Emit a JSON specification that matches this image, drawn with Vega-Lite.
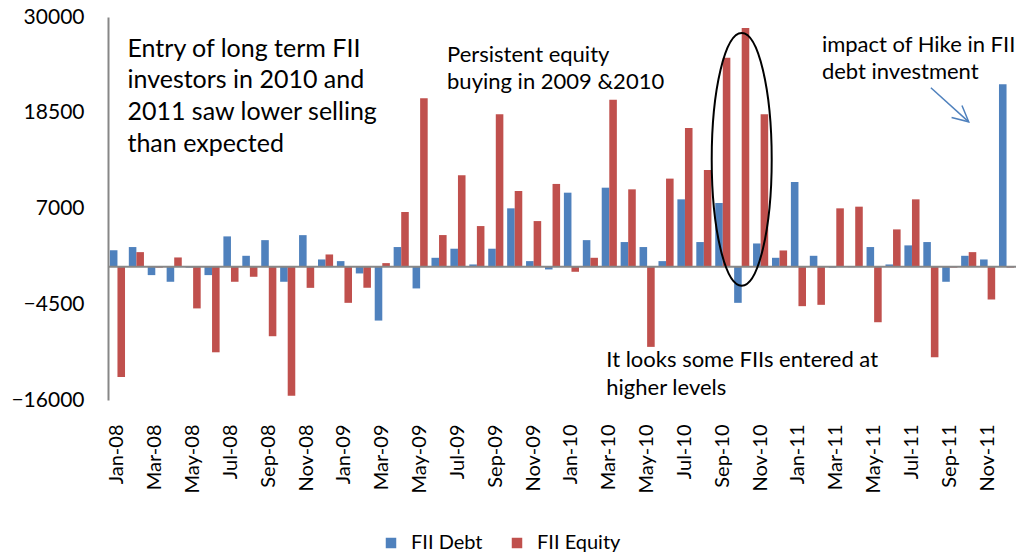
{
  "$schema": "https://vega.github.io/schema/vega-lite/v6.json",
  "autosize": {"type": "none"},
  "padding": {"left": 108, "top": 17, "right": 3, "bottom": 157},
  "width": 908,
  "height": 383,
  "background": "white",
  "config": {"view": {"stroke": null}, "font": "Lato"},
  "datasets": {
    "flows": [
      {"month": "Jan-08", "series": "FII Debt", "value": 2000}, {"month": "Jan-08", "series": "FII Equity", "value": -13230},
      {"month": "Feb-08", "series": "FII Debt", "value": 2370}, {"month": "Feb-08", "series": "FII Equity", "value": 1760},
      {"month": "Mar-08", "series": "FII Debt", "value": -1000}, {"month": "Mar-08", "series": "FII Equity", "value": -100},
      {"month": "Apr-08", "series": "FII Debt", "value": -1800}, {"month": "Apr-08", "series": "FII Equity", "value": 1120},
      {"month": "May-08", "series": "FII Debt", "value": -100}, {"month": "May-08", "series": "FII Equity", "value": -5000},
      {"month": "Jun-08", "series": "FII Debt", "value": -1000}, {"month": "Jun-08", "series": "FII Equity", "value": -10270},
      {"month": "Jul-08", "series": "FII Debt", "value": 3650}, {"month": "Jul-08", "series": "FII Equity", "value": -1800},
      {"month": "Aug-08", "series": "FII Debt", "value": 1320}, {"month": "Aug-08", "series": "FII Equity", "value": -1200},
      {"month": "Sep-08", "series": "FII Debt", "value": 3200}, {"month": "Sep-08", "series": "FII Equity", "value": -8340},
      {"month": "Oct-08", "series": "FII Debt", "value": -1800}, {"month": "Oct-08", "series": "FII Equity", "value": -15480},
      {"month": "Nov-08", "series": "FII Debt", "value": 3800}, {"month": "Nov-08", "series": "FII Equity", "value": -2530},
      {"month": "Dec-08", "series": "FII Debt", "value": 880}, {"month": "Dec-08", "series": "FII Equity", "value": 1480},
      {"month": "Jan-09", "series": "FII Debt", "value": 680}, {"month": "Jan-09", "series": "FII Equity", "value": -4330},
      {"month": "Feb-09", "series": "FII Debt", "value": -800}, {"month": "Feb-09", "series": "FII Equity", "value": -2530},
      {"month": "Mar-09", "series": "FII Debt", "value": -6460}, {"month": "Mar-09", "series": "FII Equity", "value": 440},
      {"month": "Apr-09", "series": "FII Debt", "value": 2370}, {"month": "Apr-09", "series": "FII Equity", "value": 6580},
      {"month": "May-09", "series": "FII Debt", "value": -2600}, {"month": "May-09", "series": "FII Equity", "value": 20250},
      {"month": "Jun-09", "series": "FII Debt", "value": 1080}, {"month": "Jun-09", "series": "FII Equity", "value": 3810},
      {"month": "Jul-09", "series": "FII Debt", "value": 2170}, {"month": "Jul-09", "series": "FII Equity", "value": 10990},
      {"month": "Aug-09", "series": "FII Debt", "value": 280}, {"month": "Aug-09", "series": "FII Equity", "value": 4890},
      {"month": "Sep-09", "series": "FII Debt", "value": 2170}, {"month": "Sep-09", "series": "FII Equity", "value": 18330},
      {"month": "Oct-09", "series": "FII Debt", "value": 7020}, {"month": "Oct-09", "series": "FII Equity", "value": 9100},
      {"month": "Nov-09", "series": "FII Debt", "value": 680}, {"month": "Nov-09", "series": "FII Equity", "value": 5490},
      {"month": "Dec-09", "series": "FII Debt", "value": -320}, {"month": "Dec-09", "series": "FII Equity", "value": 9950},
      {"month": "Jan-10", "series": "FII Debt", "value": 8900}, {"month": "Jan-10", "series": "FII Equity", "value": -600},
      {"month": "Feb-10", "series": "FII Debt", "value": 3200}, {"month": "Feb-10", "series": "FII Equity", "value": 1080},
      {"month": "Mar-10", "series": "FII Debt", "value": 9500}, {"month": "Mar-10", "series": "FII Equity", "value": 20050},
      {"month": "Apr-10", "series": "FII Debt", "value": 2970}, {"month": "Apr-10", "series": "FII Equity", "value": 9300},
      {"month": "May-10", "series": "FII Debt", "value": 2370}, {"month": "May-10", "series": "FII Equity", "value": -9620},
      {"month": "Jun-10", "series": "FII Debt", "value": 680}, {"month": "Jun-10", "series": "FII Equity", "value": 10590},
      {"month": "Jul-10", "series": "FII Debt", "value": 8100}, {"month": "Jul-10", "series": "FII Equity", "value": 16680},
      {"month": "Aug-10", "series": "FII Debt", "value": 2970}, {"month": "Aug-10", "series": "FII Equity", "value": 11630},
      {"month": "Sep-10", "series": "FII Debt", "value": 7660}, {"month": "Sep-10", "series": "FII Equity", "value": 25100},
      {"month": "Oct-10", "series": "FII Debt", "value": -4330}, {"month": "Oct-10", "series": "FII Equity", "value": 28670},
      {"month": "Nov-10", "series": "FII Debt", "value": 2800}, {"month": "Nov-10", "series": "FII Equity", "value": 18330},
      {"month": "Dec-10", "series": "FII Debt", "value": 1080}, {"month": "Dec-10", "series": "FII Equity", "value": 1960},
      {"month": "Jan-11", "series": "FII Debt", "value": 10190}, {"month": "Jan-11", "series": "FII Equity", "value": -4730},
      {"month": "Feb-11", "series": "FII Debt", "value": 1320}, {"month": "Feb-11", "series": "FII Equity", "value": -4570},
      {"month": "Mar-11", "series": "FII Debt", "value": -100}, {"month": "Mar-11", "series": "FII Equity", "value": 7020},
      {"month": "Apr-11", "series": "FII Debt", "value": -50}, {"month": "Apr-11", "series": "FII Equity", "value": 7220},
      {"month": "May-11", "series": "FII Debt", "value": 2370}, {"month": "May-11", "series": "FII Equity", "value": -6660},
      {"month": "Jun-11", "series": "FII Debt", "value": 280}, {"month": "Jun-11", "series": "FII Equity", "value": 4490},
      {"month": "Jul-11", "series": "FII Debt", "value": 2570}, {"month": "Jul-11", "series": "FII Equity", "value": 8100},
      {"month": "Aug-11", "series": "FII Debt", "value": 2970}, {"month": "Aug-11", "series": "FII Equity", "value": -10870},
      {"month": "Sep-11", "series": "FII Debt", "value": -1800}, {"month": "Sep-11", "series": "FII Equity", "value": -100},
      {"month": "Oct-11", "series": "FII Debt", "value": 1320}, {"month": "Oct-11", "series": "FII Equity", "value": 1760},
      {"month": "Nov-11", "series": "FII Debt", "value": 880}, {"month": "Nov-11", "series": "FII Equity", "value": -3930},
      {"month": "Dec-11", "series": "FII Debt", "value": 21930}, {"month": "Dec-11", "series": "FII Equity", "value": -100}
    ],
    "one": [{"note": "annotation"}]
  },
  "data": {"name": "flows"},
  "encoding": {
    "x": {
      "field": "month", "type": "ordinal", "sort": null,
      "scale": {"paddingInner": 0.2, "paddingOuter": 0.1},
      "axis": {
        "title": null, "domain": false, "ticks": false, "labelAngle": -90, "labelPadding": 24,
        "labelFont": "Lato", "labelFontSize": 20, "labelColor": "#000000",
        "values": ["Jan-08","Mar-08","May-08","Jul-08","Sep-08","Nov-08","Jan-09","Mar-09","May-09","Jul-09","Sep-09","Nov-09","Jan-10","Mar-10","May-10","Jul-10","Sep-10","Nov-10","Jan-11","Mar-11","May-11","Jul-11","Sep-11","Nov-11"]
      }
    },
    "y": {
      "type": "quantitative",
      "scale": {"domain": [-16000, 30000], "nice": false, "zero": false},
      "axis": {
        "title": null, "grid": false, "ticks": false, "domain": true, "domainColor": "#878787", "domainWidth": 2,
        "values": [-16000, -4500, 7000, 18500, 30000], "format": "d",
        "labelPadding": 24, "labelFont": "Lato", "labelFontSize": 21, "labelColor": "#000000"
      }
    }
  },
  "layer": [
    {
      "mark": {"type": "bar"},
      "encoding": {
        "y": {"field": "value", "type": "quantitative"},
        "xOffset": {"field": "series", "type": "nominal", "scale": {"paddingInner": 0, "paddingOuter": 0}},
        "color": {
          "field": "series", "type": "nominal",
          "scale": {"domain": ["FII Debt", "FII Equity"], "range": ["#4F81BD", "#C0504D"]},
          "legend": {
            "title": null, "orient": "none", "direction": "horizontal", "legendX": 273, "legendY": 516,
            "symbolType": "square", "symbolSize": 110, "symbolStrokeWidth": 0, "symbolOpacity": 1,
            "labelFont": "Lato", "labelFontSize": 20, "labelColor": "#000000", "labelOffset": 10, "columnPadding": 24
          }
        }
      }
    },
    {
      "data": {"name": "one"},
      "mark": {"type": "rule", "color": "#878787", "strokeWidth": 2},
      "encoding": {"y": {"datum": 0}, "x": null}
    },
    {
      "data": {"name": "one"},
      "mark": {"type": "point", "shape": "M -0.2375,0 A 0.2375,1 0 1,1 0.2375,0 A 0.2375,1 0 1,1 -0.2375,0 Z", "size": 63800, "filled": false, "stroke": "#000000", "strokeWidth": 2, "opacity": 1},
      "encoding": {"x": {"datum": "Oct-10"}, "y": {"datum": 12900}}
    },
    {
      "data": {"name": "one"},
      "mark": {"type": "rule", "color": "#4F81BD", "strokeWidth": 1.5},
      "encoding": {"x": {"datum": "Aug-11"}, "y": {"datum": 21500}, "x2": {"datum": "Oct-11"}, "y2": {"datum": 17410}}
    },
    {
      "data": {"name": "one"},
      "mark": {"type": "point", "shape": "M -0.5,1 L 0,0 L 0.5,1", "size": 1000, "angle": 131, "filled": false, "stroke": "#4F81BD", "strokeWidth": 1.5, "opacity": 1},
      "encoding": {"x": {"datum": "Oct-11"}, "y": {"datum": 17410}}
    },
    {
      "data": {"name": "one"},
      "mark": {"type": "text", "text": ["Entry of long term FII", "investors in 2010 and", "2011 saw lower selling", "than expected"], "align": "left", "baseline": "middle", "dx": 10, "font": "Lato", "fontSize": 25, "lineHeight": 31.7, "fill": "#000000"},
      "encoding": {"x": {"datum": "Jan-08"}, "y": {"datum": 26200}}
    },
    {
      "data": {"name": "one"},
      "mark": {"type": "text", "text": ["Persistent equity", "buying in 2009 &2010"], "align": "left", "baseline": "middle", "dx": 8, "font": "Lato", "fontSize": 22, "lineHeight": 27, "fill": "#000000"},
      "encoding": {"x": {"datum": "Jun-09"}, "y": {"datum": 25470}}
    },
    {
      "data": {"name": "one"},
      "mark": {"type": "text", "text": ["impact of Hike in FII", "debt investment"], "align": "left", "baseline": "middle", "dx": 4.5, "font": "Lato", "fontSize": 22, "lineHeight": 27, "fill": "#000000"},
      "encoding": {"x": {"datum": "Feb-11"}, "y": {"datum": 26680}}
    },
    {
      "data": {"name": "one"},
      "mark": {"type": "text", "text": ["It looks some  FIIs entered at", "higher levels"], "align": "left", "baseline": "middle", "dx": -3, "font": "Lato", "fontSize": 22, "lineHeight": 28, "fill": "#000000"},
      "encoding": {"x": {"datum": "Mar-10"}, "y": {"datum": -11240}}
    }
  ]
}
